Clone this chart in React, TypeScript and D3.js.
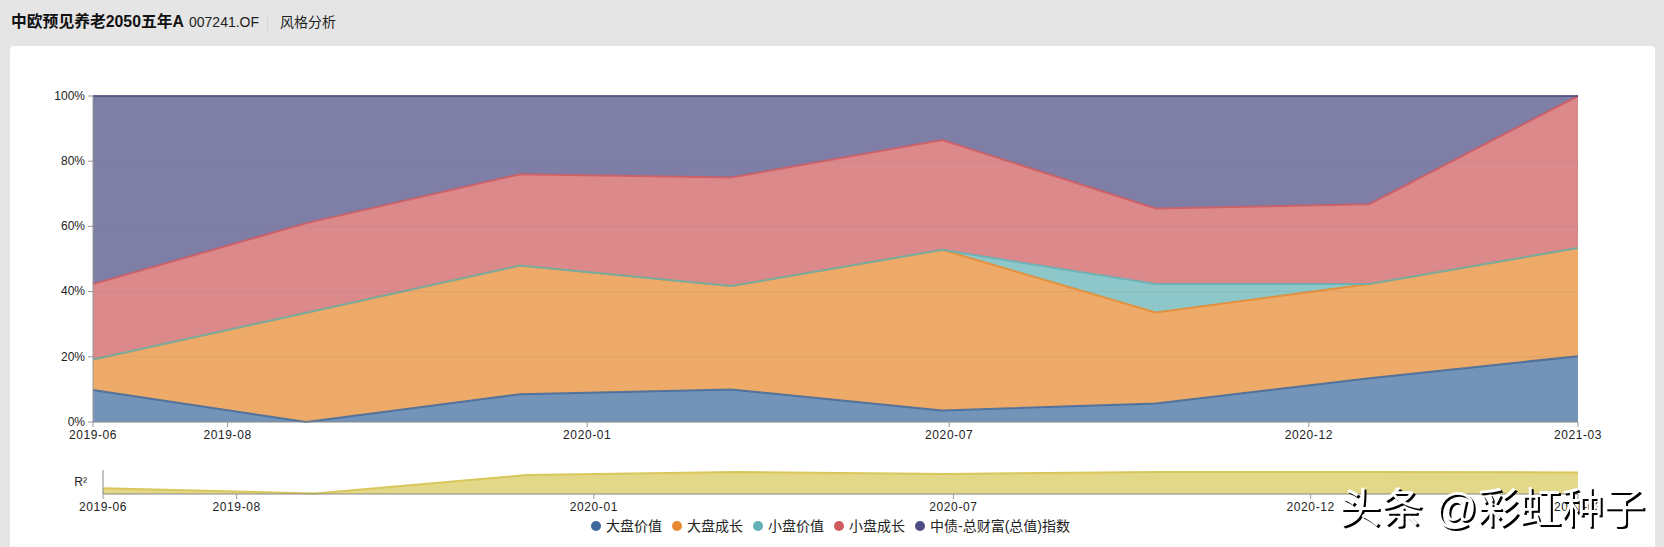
import * as d3 from "d3";

const dates = ["2019-06-30", "2019-09-30", "2019-12-31", "2020-03-31", "2020-06-30", "2020-09-30", "2020-12-31", "2021-03-31"];
const seriesNames = ["大盘价值", "大盘成长", "小盘价值", "小盘成长", "中债-总财富(总值)指数"];
const seriesColors = ["#3f6a9c", "#e8892f", "#63b1b4", "#cf5b60", "#4c4c84"];

const largeValue = [9.8, 0, 8.5, 10, 3.5, 5.7, 13.4, 20.2];
const largeGrowth = [9.4, 33.5, 39.5, 31.7, 49.3, 27.9, 28.9, 33.2];
const smallValue = [0, 0, 0, 0, 0, 8.7, 0, 0];
const smallGrowth = [23.1, 27.5, 28, 33.3, 33.7, 23.2, 24.5, 46.6];
const bond = [57.7, 39, 24, 25, 13.5, 34.5, 33.2, 0];
const rSquared = [0.24, 0.02, 0.79, 0.92, 0.83, 0.92, 0.92, 0.9];

// the source axis puts its labels off the month starts, so keep the dates they sit at
const tickDates = ["2019-06-30", "2019-08-27", "2020-01-29", "2020-07-03", "2020-12-05", "2021-03-31"];
const yTicks = [0, 20, 40, 60, 80, 100];

const FONT = '"Liberation Sans", "Noto Sans CJK SC", sans-serif';
const parse = d3.utcParse("%Y-%m-%d");
const fmt = d3.utcFormat("%Y-%m");

const W = 1664;
const H = 547;
const left = 93;
const right = 1578;
const top = 96;
const bottom = 422;
const rLeft = 103;
const rTop = 470;
const rBottom = 494;

export default function App() {
  const domain = [parse(dates[0])!, parse(dates[dates.length - 1])!];
  const x = d3.scaleUtc().domain(domain).range([left, right]);
  const xr = d3.scaleUtc().domain(domain).range([rLeft, right]);
  const y = d3.scaleLinear().domain([0, 100]).range([bottom, top]);
  const yr = d3.scaleLinear().domain([0, 1]).range([rBottom, rTop]);

  const rows = dates.map((d, i) => ({
    date: parse(d)!,
    s0: largeValue[i],
    s1: largeGrowth[i],
    s2: smallValue[i],
    s3: smallGrowth[i],
    s4: bond[i],
  }));
  const stacked = d3.stack<any>().keys(["s0", "s1", "s2", "s3", "s4"])(rows);

  const area = d3
    .area<any>()
    .x((d) => x(d.data.date))
    .y0((d) => y(d[0]))
    .y1((d) => y(d[1]));
  const line = d3
    .line<any>()
    .x((d) => x(d.data.date))
    .y((d) => y(d[1]));

  const rArea = d3
    .area<number>()
    .x((_, i) => xr(parse(dates[i])!))
    .y0(rBottom)
    .y1((d) => yr(d));
  const rLine = d3
    .line<number>()
    .x((_, i) => xr(parse(dates[i])!))
    .y((d) => yr(d));

  const legendX = d3.range(seriesNames.length).map((i) => 596 + i * 81);

  return (
    <svg
      width={W}
      height={H}
      style={{ position: "fixed", left: 0, top: 0, display: "block" }}
      fontFamily={FONT}
    >
      <rect width={W} height={H} fill="#e5e5e5" />
      <rect x={10} y={46} width={1645} height={H} rx={4} fill="#fff" />

      <text x={11} y={27} fontSize={15.8} fontWeight="bold" fill="#111">
        中欧预见养老2050五年A
      </text>
      <text x={189} y={27} fontSize={14} fill="#222">
        007241.OF
      </text>
      <line x1={267.5} x2={267.5} y1={16} y2={32} stroke="#d8d8d8" />
      <text x={280} y={27} fontSize={14} fill="#222">
        风格分析
      </text>

      {stacked.map((s, i) => (
        <path key={s.key} d={area(s) ?? ""} fill={seriesColors[i]} fillOpacity={0.72} />
      ))}
      {stacked.map((s, i) => (
        <path key={s.key} d={line(s) ?? ""} fill="none" stroke={seriesColors[i]} strokeOpacity={0.85} strokeWidth={2} />
      ))}

      {yTicks.map((t) => (
        <g key={t}>
          {t > 0 && t < 100 && (
            <line x1={left} x2={right} y1={y(t)} y2={y(t)} stroke="#666" strokeOpacity={0.22} strokeDasharray="2 2" />
          )}
          <line x1={left - 5} x2={left} y1={y(t)} y2={y(t)} stroke="#999" />
          <text x={left - 8} y={y(t)} dy="0.32em" textAnchor="end" fontSize={12} fill="#222">
            {t}%
          </text>
        </g>
      ))}
      <line x1={left} x2={left} y1={top} y2={bottom} stroke="#999" />
      <line x1={left} x2={right} y1={bottom} y2={bottom} stroke="#888" />
      {tickDates.map((t) => (
        <g key={t}>
          <line x1={x(parse(t)!)} x2={x(parse(t)!)} y1={bottom} y2={bottom + 5} stroke="#999" />
          <text x={x(parse(t)!)} y={bottom + 17} textAnchor="middle" fontSize={12} letterSpacing={0.6} fill="#222">
            {fmt(parse(t)!)}
          </text>
        </g>
      ))}

      <path d={rArea(rSquared) ?? ""} fill="#d8c75a" fillOpacity={0.72} />
      <path d={rLine(rSquared) ?? ""} fill="none" stroke="#d8c75a" strokeWidth={2} />
      <line x1={rLeft} x2={rLeft} y1={rTop} y2={rBottom} stroke="#888" />
      <line x1={rLeft} x2={right} y1={rBottom} y2={rBottom} stroke="#888" />
      <text x={87} y={486} textAnchor="end" fontSize={12} fill="#222">
        R²
      </text>
      {tickDates.map((t) => (
        <g key={t}>
          <line x1={xr(parse(t)!)} x2={xr(parse(t)!)} y1={rBottom} y2={rBottom + 5} stroke="#999" />
          <text x={xr(parse(t)!)} y={rBottom + 17} textAnchor="middle" fontSize={12} letterSpacing={0.6} fill="#222">
            {fmt(parse(t)!)}
          </text>
        </g>
      ))}

      {seriesNames.map((n, i) => (
        <g key={n}>
          <circle cx={legendX[i]} cy={526} r={5} fill={seriesColors[i]} />
          <text x={legendX[i] + 10} y={531} fontSize={14} fill="#222">
            {n}
          </text>
        </g>
      ))}

      <text
        x={1339}
        y={523}
        fontSize={42}
        fill="#fff"
        style={{ filter: "drop-shadow(2px 2px 0 #000)" }}
      >
        头条 @彩虹种子
      </text>
    </svg>
  );
}
